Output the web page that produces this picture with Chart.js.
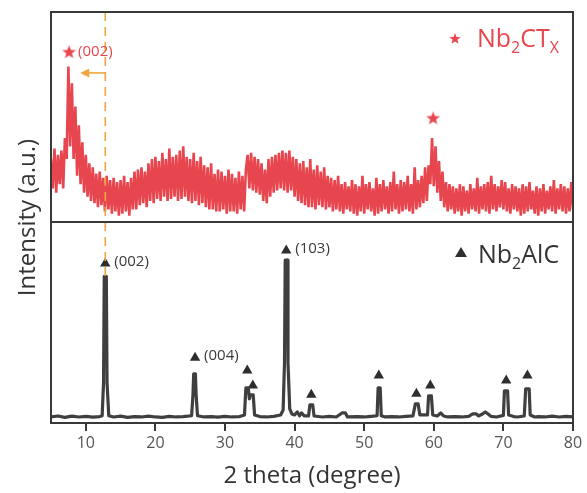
<!DOCTYPE html>
<html>
<head>
<meta charset="utf-8">
<script src="https://cdn.jsdelivr.net/npm/chart.js@4.4.1/dist/chart.umd.min.js"></script>
<style>
html,body{margin:0;padding:0;background:#ffffff;}
#wrap{width:587px;height:493px;}
</style>
</head>
<body>
<div id="wrap"><canvas id="c" width="587" height="493"></canvas></div>
<script>
// ---------------- data ----------------
const xTicks = [10, 20, 30, 40, 50, 60, 70, 80];

// Nb2CTx (upper panel), sampled every 0.25 degree starting at 5 degrees
const nb2ctxStart = 5;
const nb2ctxStep = 0.25;
const nb2ctxIntensity = [
  30,16,35,14, 32,18,34,16, 40,30,74,36, 66,30,55,22, 46,18,38,14,
  32,12,28,10, 26,9,23,7, 24,8,21,5, 22,6,20,4, 21,5,19,3,
  20,4,22,5, 19,3,21,6, 24,6,25,8, 26,9,24,7, 28,10,30,9,
  31,11,29,10, 33,12,30,10, 35,11,31,12, 32,10,34,11, 36,12,31,10,
  30,9,33,10, 29,8,31,9, 27,7,26,6, 28,6,23,5, 25,5,24,6,
  22,4,25,5, 23,5,21,4, 24,6,22,5, 25,32,16,33, 15,31,14,30,
  13,28,10,25, 9,30,12,31, 14,32,15,33, 16,34,15,33, 14,34,15,31,
  12,30,10,28, 9,29,8,26, 7,30,7,25, 6,27,8,24, 7,26,6,22,
  7,21,5,20, 6,22,5,18, 4,19,6,17, 5,20,4,18, 3,17,5,22,
  4,18,6,19, 5,16,3,21, 4,18,5,20, 6,17,4,19, 5,24,6,18,
  4,20,5,19, 6,22,5,18, 4,26,6,20, 7,22,9,26, 10,27,18,40,
  17,36,14,29, 10,24,7,19, 5,18,6,17, 4,16,5,18, 3,17,5,15,
  4,18,6,16, 5,21,4,17, 6,18,5,19, 4,22,6,18, 5,17,7,20,
  6,19,5,16, 4,18,6,17, 5,16,3,18, 4,17,5,19, 6,15,4,17,
  3,16,5,18, 4,15,6,17, 5,20,4,16, 6,18,5,17, 4,16,5,19,
  6
];

// Nb2AlC (lower panel): [2 theta, intensity]
const nb2alcPoints = [
  [5,3],[6,3.5],[7,2.8],[8,3.4],[9,3],[10,3.3],[11,2.9],[12,3.2],
  [12.35,3.6],[12.55,20],[12.65,73],[12.95,73],[13.05,20],[13.3,3.6],
  [14,3],[15,3.4],[16,2.8],[17,3.2],[18,3],[19,3.4],[20,3],[21,2.8],[22,3.3],[23,3],[24,3.2],
  [25.2,3.6],[25.4,14],[25.5,24.5],[25.75,24.5],[25.85,14],[26.05,3.6],
  [27,3],[28,3.2],[29,2.9],[30,3.3],[31,3],[32,3.1],
  [32.8,4],[33.0,17.5],[33.35,17.5],[33.5,12],[33.65,14],[34.05,14],[34.25,4],
  [35,3.2],[36,3],[37,3.3],[38,4],
  [38.35,6.5],[38.55,30],[38.65,81],[38.95,81],[39.05,30],[39.3,7],[39.6,4.5],
  [40,4],[40.4,5.5],[40.7,3.6],[41,5],[41.4,3.5],[42,3.5],
  [42.2,9],[42.6,9],[42.8,3.5],
  [44,3],[45,3.3],[46,3],[46.8,5],[47.3,5],[47.6,3],[49,3.2],[50,3],[51,3.3],
  [51.85,3.6],[52.0,17.5],[52.3,17.5],[52.45,3.6],
  [53,3],[54,3.2],[55,3],[56,3.3],[57,3.5],
  [57.35,9.5],[57.75,9.5],[58,4],[59.1,4],[59.25,13.5],[59.65,13.5],[59.85,4],
  [60.5,3.5],[61,5],[61.4,3.5],[62,3],[63,3.2],[64,3],[65,3.3],
  [65.6,4.5],[66.1,4.5],[66.4,3.5],[67,4.5],[67.4,5.5],[67.8,4.5],[68.2,3.3],
  [69,3],[70,3.8],[70.15,16],[70.6,16],[70.75,4],[71.5,3.2],[72,3],[73,3.5],
  [73.2,17],[73.7,17],[73.85,4],[74.5,3],[75,3.2],[76,3],[77,3.4],[78,3],[79,3.3],[80,3]
];

// peak markers
const starTheta = [7.6, 59.9];
const starIntensity = [81, 49.5];
const triTheta = [12.8, 25.7, 33.2, 34.0, 38.8, 42.4, 52.1, 57.5, 59.5, 70.4, 73.45];
const triIntensity = [79.3, 32.5, 26.1, 18.6, 85.8, 14.1, 23.6, 14.6, 18.6, 21.1, 23.6];

// hkl labels
const redHkl = ['(002)'];
const redHklTheta = [7.6];
const redHklIntensity = [81];
const grayHkl = ['(002)', '(004)', '(103)'];
const grayHklTheta = [12.8, 25.7, 38.8];
const grayHklIntensity = [80, 33.3, 86.6];

// shift guide
const dashTheta = 12.8;
const dashEndIntensity = 73;
const arrowIntensity = 71;
const arrowToTheta = 9.2;

// ---------------- styles ----------------
const FONT = "'Open Sans', 'Noto Sans', 'DejaVu Sans', sans-serif";
const RED = '#e8464e';
const GRAY = '#3f3f3f';
const ORANGE = '#f0a640';
const FRAME = '#383838';
Chart.defaults.font.family = FONT;

function starPath(ctx, cx, cy, ro, ri) {
  ctx.beginPath();
  for (let i = 0; i < 10; i++) {
    const r = i % 2 === 0 ? ro : ri;
    const ang = -Math.PI / 2 + i * Math.PI / 5;
    const px = cx + r * Math.cos(ang), py = cy + r * Math.sin(ang);
    if (i === 0) ctx.moveTo(px, py); else ctx.lineTo(px, py);
  }
  ctx.closePath();
}
const starImg = document.createElement('canvas');
starImg.width = 15; starImg.height = 15;
(function(){
  const g = starImg.getContext('2d');
  g.fillStyle = RED;
  starPath(g, 7.5, 8, 7.2, 3.0);
  g.fill();
})();

const redData = nb2ctxIntensity.map((v, i) => ({x: nb2ctxStart + i * nb2ctxStep, y: v}));
const grayData = nb2alcPoints.map(p => ({x: p[0], y: p[1]}));
const starData = starTheta.map((t, i) => ({x: t, y: starIntensity[i]}));
const triData = triTheta.map((t, i) => ({x: t, y: triIntensity[i]}));

function drawRich(ctx, parts, x, y, size, subSize, color) {
  ctx.fillStyle = color;
  ctx.textAlign = 'left';
  ctx.textBaseline = 'alphabetic';
  let cx = x;
  for (const p of parts) {
    ctx.font = (p.sub ? subSize : size) + 'px ' + FONT;
    ctx.fillText(p.t, cx, p.sub ? y + 6 : y);
    cx += ctx.measureText(p.t).width;
  }
}

const overlay = {
  id: 'overlay',
  afterDatasetsDraw(chart) {
    const {ctx, chartArea: a, scales} = chart;
    const x = scales.x, yH = scales.yHigh, yL = scales.yLow;
    ctx.save();
    // dashed guide
    const dx = x.getPixelForValue(dashTheta);
    ctx.strokeStyle = ORANGE;
    ctx.lineWidth = 1.6;
    ctx.setLineDash([9, 6]);
    ctx.beginPath();
    ctx.moveTo(dx, a.top);
    ctx.lineTo(dx, yL.getPixelForValue(dashEndIntensity));
    ctx.stroke();
    ctx.setLineDash([]);
    // arrow
    const ay = yH.getPixelForValue(arrowIntensity);
    const ax1 = x.getPixelForValue(arrowToTheta);
    ctx.beginPath();
    ctx.moveTo(dx, ay);
    ctx.lineTo(ax1 + 6, ay);
    ctx.stroke();
    ctx.fillStyle = ORANGE;
    ctx.beginPath();
    ctx.moveTo(ax1, ay);
    ctx.lineTo(ax1 + 9, ay - 4.5);
    ctx.lineTo(ax1 + 9, ay + 4.5);
    ctx.closePath();
    ctx.fill();
    // frame
    ctx.strokeStyle = FRAME;
    ctx.lineWidth = 2;
    ctx.strokeRect(a.left, a.top, a.right - a.left, a.bottom - a.top);
    const divY = Math.min(yH.bottom, yL.bottom);
    ctx.beginPath();
    ctx.moveTo(a.left, divY);
    ctx.lineTo(a.right, divY);
    ctx.stroke();
    // hkl labels
    ctx.font = '15px ' + FONT;
    ctx.textAlign = 'left';
    ctx.textBaseline = 'middle';
    ctx.fillStyle = RED;
    redHkl.forEach((t, i) => {
      ctx.fillText(t, x.getPixelForValue(redHklTheta[i]) + 9, yH.getPixelForValue(redHklIntensity[i]));
    });
    ctx.fillStyle = '#3a3a3a';
    grayHkl.forEach((t, i) => {
      ctx.fillText(t, x.getPixelForValue(grayHklTheta[i]) + 9, yL.getPixelForValue(grayHklIntensity[i]));
    });
    // legends
    ctx.fillStyle = RED;
    starPath(ctx, a.right - 118, a.top + 27, 6, 2.5);
    ctx.fill();
    drawRich(ctx, [{t:'Nb'},{t:'2',sub:true},{t:'CT'},{t:'X',sub:true}], a.right - 96, a.top + 35, 25, 16, RED);
    const ly = (yL.top) + 33;
    ctx.fillStyle = '#2e2e2e';
    ctx.beginPath();
    ctx.moveTo(a.right - 112, ly - 8);
    ctx.lineTo(a.right - 106, ly + 2);
    ctx.lineTo(a.right - 118, ly + 2);
    ctx.closePath();
    ctx.fill();
    drawRich(ctx, [{t:'Nb'},{t:'2',sub:true},{t:'AlC'}], a.right - 95, ly + 8, 25, 16, '#333333');
    ctx.restore();
  }
};

new Chart(document.getElementById('c'), {
  type: 'line',
  data: {
    datasets: [
      {label: 'Nb2CTx', data: redData, yAxisID: 'yHigh', borderColor: RED, borderWidth: 2.6,
       pointRadius: 0, tension: 0, fill: false, borderJoinStyle: 'miter'},
      {label: 'Nb2AlC', data: grayData, yAxisID: 'yLow', borderColor: GRAY, borderWidth: 3.2,
       pointRadius: 0, tension: 0, fill: false, borderJoinStyle: 'round'},
      {label: 'Nb2CTx peaks', type: 'scatter', data: starData, yAxisID: 'yHigh',
       pointStyle: starImg, pointRadius: 7, showLine: false, clip: false},
      {label: 'Nb2AlC peaks', type: 'scatter', data: triData, yAxisID: 'yLow',
       pointStyle: 'triangle', pointRadius: 6, backgroundColor: '#2e2e2e', borderColor: '#2e2e2e',
       borderWidth: 0, showLine: false, clip: false}
    ]
  },
  options: {
    responsive: false,
    animation: false,
    devicePixelRatio: 1,
    layout: {padding: {left: 0, top: 12, right: 14, bottom: 0}},
    plugins: {legend: {display: false}, tooltip: {enabled: false}},
    scales: {
      x: {
        type: 'linear', min: 5, max: 80,
        afterBuildTicks: s => { s.ticks = xTicks.map(v => ({value: v})); },
        afterFit: s => { s.height = 70; },
        grid: {drawOnChartArea: false, drawTicks: true, tickLength: 8, color: FRAME, lineWidth: 2},
        border: {display: false},
        ticks: {color: '#555555', font: {size: 16}, padding: 3, maxRotation: 0, autoSkip: false},
        title: {display: true, text: '2 theta (degree)', color: '#333333', font: {size: 24}, padding: {top: 0, bottom: 2}}
      },
      yLow: {type: 'linear', min: 0, max: 100, display: false, position: 'left', stack: 'xrd', stackWeight: 201},
      yHigh: {type: 'linear', min: 0, max: 100, display: false, position: 'left', stack: 'xrd', stackWeight: 210},
      yTitle: {
        type: 'linear', min: 0, max: 1, position: 'left',
        afterFit: s => { s.width = 51; },
        grid: {display: false, drawTicks: false},
        border: {display: false},
        ticks: {display: false},
        title: {display: true, text: 'Intensity (a.u.)', color: '#333333', font: {size: 24}, padding: {top: 14, bottom: 0}}
      }
    }
  },
  plugins: [overlay]
});
</script>
</body>
</html>
